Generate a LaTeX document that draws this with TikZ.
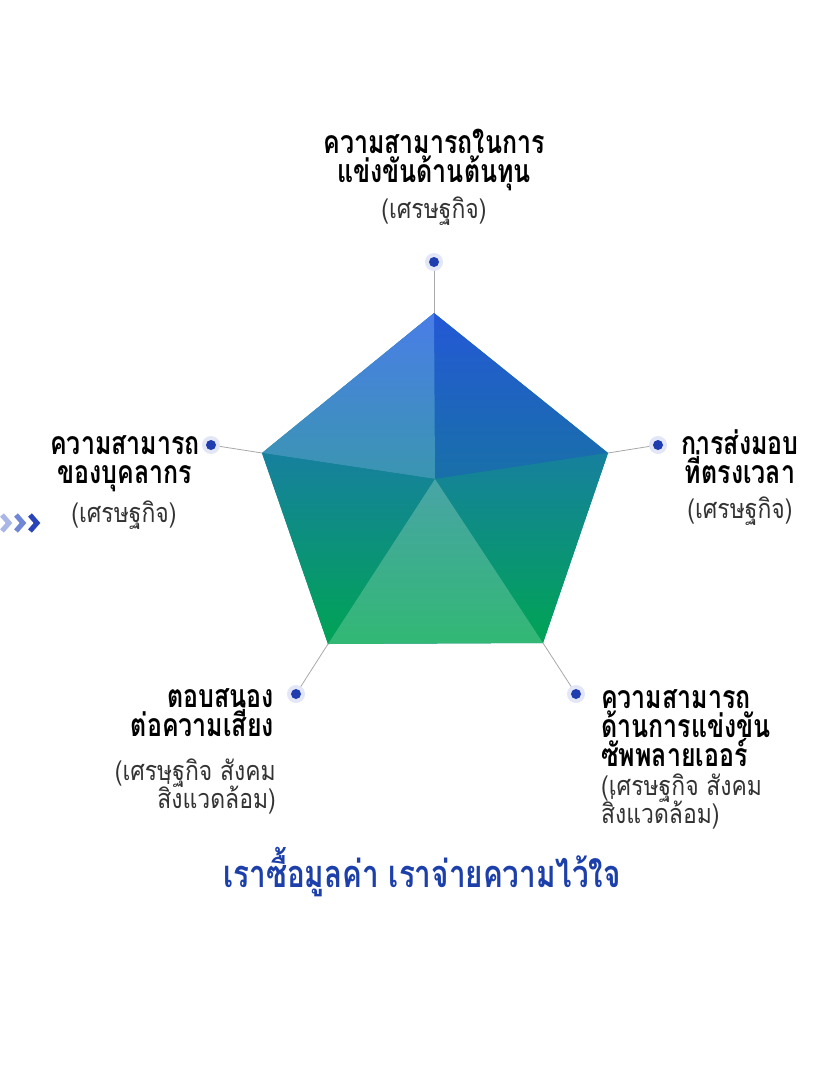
\documentclass[tikz,border=0pt]{standalone}
\usepackage{fontspec}
\newfontfamily\thaifont[Script=Thai,FakeStretch=0.78]{Loma}
\newfontfamily\thaisub[Script=Thai,FakeStretch=0.85]{Loma}
\newcommand\tightlines{\lineskiplimit -40pt\relax}

\definecolor{dotblue}{HTML}{1F3DAE}
\definecolor{dothalo}{HTML}{E2E6F6}
\definecolor{spoke}{HTML}{A8A8A8}
\definecolor{subgray}{HTML}{333333}
\definecolor{titleblue}{HTML}{1C3FAA}

\tikzset{
  mainlbl/.style={inner sep=0pt, anchor=base, align=center,
    font={\thaifont\bfseries\fontsize{32}{29}\selectfont\tightlines}},
  sublbl/.style={inner sep=0pt, anchor=base, align=center, text=subgray,
    font={\thaisub\fontsize{27}{28}\selectfont\tightlines}},
  spokeline/.style={spoke, line width=0.8pt},
  chev/.style={line width=5pt, line join=miter}
}

\begin{document}
\begin{tikzpicture}[x=1pt,y=-1pt]
\useasboundingbox (0,0) rectangle (830,1065);
% corners of the pentagon and its centre
\coordinate (C) at (435,479);
\coordinate (T) at (434,313);
\coordinate (R) at (608,453);
\coordinate (BR) at (543,643);
\coordinate (BL) at (328,644);
\coordinate (L) at (262,453);
% five triangles on a base fill
\fill [color={rgb,255:red,24;green,130;blue,150}] (T) -- (R) -- (BR) -- (BL) -- (L) -- cycle;
\shade [top color={rgb,255:red,36;green,88;blue,214}, bottom color={rgb,255:red,24;green,112;blue,168}] (T) -- (R) -- (C) -- cycle;
\shade [top color={rgb,255:red,74;green,125;blue,232}, bottom color={rgb,255:red,58;green,150;blue,176}] (T) -- (C) -- (L) -- cycle;
\shade [top color={rgb,255:red,22;green,128;blue,158}, bottom color={rgb,255:red,0;green,164;blue,84}] (R) -- (BR) -- (C) -- cycle;
\shade [top color={rgb,255:red,22;green,128;blue,158}, bottom color={rgb,255:red,0;green,164;blue,84}] (L) -- (C) -- (BL) -- cycle;
\shade [top color={rgb,255:red,72;green,164;blue,166}, bottom color={rgb,255:red,50;green,184;blue,116}] (C) -- (BR) -- (BL) -- cycle;
% marker dots
\coordinate (dT) at (434,262);
\coordinate (dR) at (658,445);
\coordinate (dBR) at (576,694);
\coordinate (dBL) at (296,694);
\coordinate (dL) at (211,445);
\draw [spokeline] (dT) -- (T);
\draw [spokeline] (dR) -- (R);
\draw [spokeline] (dBR) -- (BR);
\draw [spokeline] (dBL) -- (BL);
\draw [spokeline] (dL) -- (L);
\foreach \d in {dT,dR,dBR,dBL,dL} {
  \fill [dothalo] (\d) circle (9);
  \fill [dotblue] (\d) circle (5);
}
% labels (base = last line)
\node [mainlbl] (topMain) at (434,182) {ความสามารถในการ\\แข่งขันด้านต้นทุน};
\node [sublbl] (topSub) at (434,218) {(เศรษฐกิจ)};
\node [mainlbl] (leftMain) at (125,483) {ความสามารถ\\ของบุคลากร};
\node [sublbl] (leftSub) at (124,522) {(เศรษฐกิจ)};
\node [mainlbl] (rightMain) at (740,483) {การส่งมอบ\\ที่ตรงเวลา};
\node [sublbl] (rightSub) at (740,518) {(เศรษฐกิจ)};
\node [mainlbl, align=left, anchor=base west] (brMain) at (601,766) {ความสามารถ\\ด้านการแข่งขัน\\ซัพพลายเออร์};
\node [sublbl, align=left, anchor=base west] (brSub) at (601,823) {(เศรษฐกิจ สังคม\\สิ่งแวดล้อม)};
\node [mainlbl, align=right, anchor=base east] (blMain) at (274,736) {ตอบสนอง\\ต่อความเสี่ยง};
\node [sublbl, align=right, anchor=base east] (blSub) at (276,808) {(เศรษฐกิจ สังคม\\สิ่งแวดล้อม)};
\node [inner sep=0pt, anchor=base, text=titleblue,
  font=\thaifont\bfseries\fontsize{38}{40}\selectfont] (slogan) at (422,887) {เราซื้อมูลค่า เราจ่ายความไว้ใจ};
% chevrons on the left edge
\draw [chev, color={rgb,255:red,170;green,182;blue,230}] (2,515) -- (9,523) -- (2,531);
\draw [chev, color={rgb,255:red,112;green,134;blue,214}] (16,515) -- (23,523) -- (16,531);
\draw [chev, color={rgb,255:red,40;green,68;blue,184}] (30,515) -- (37,523) -- (30,531);
\end{tikzpicture}
\end{document}
